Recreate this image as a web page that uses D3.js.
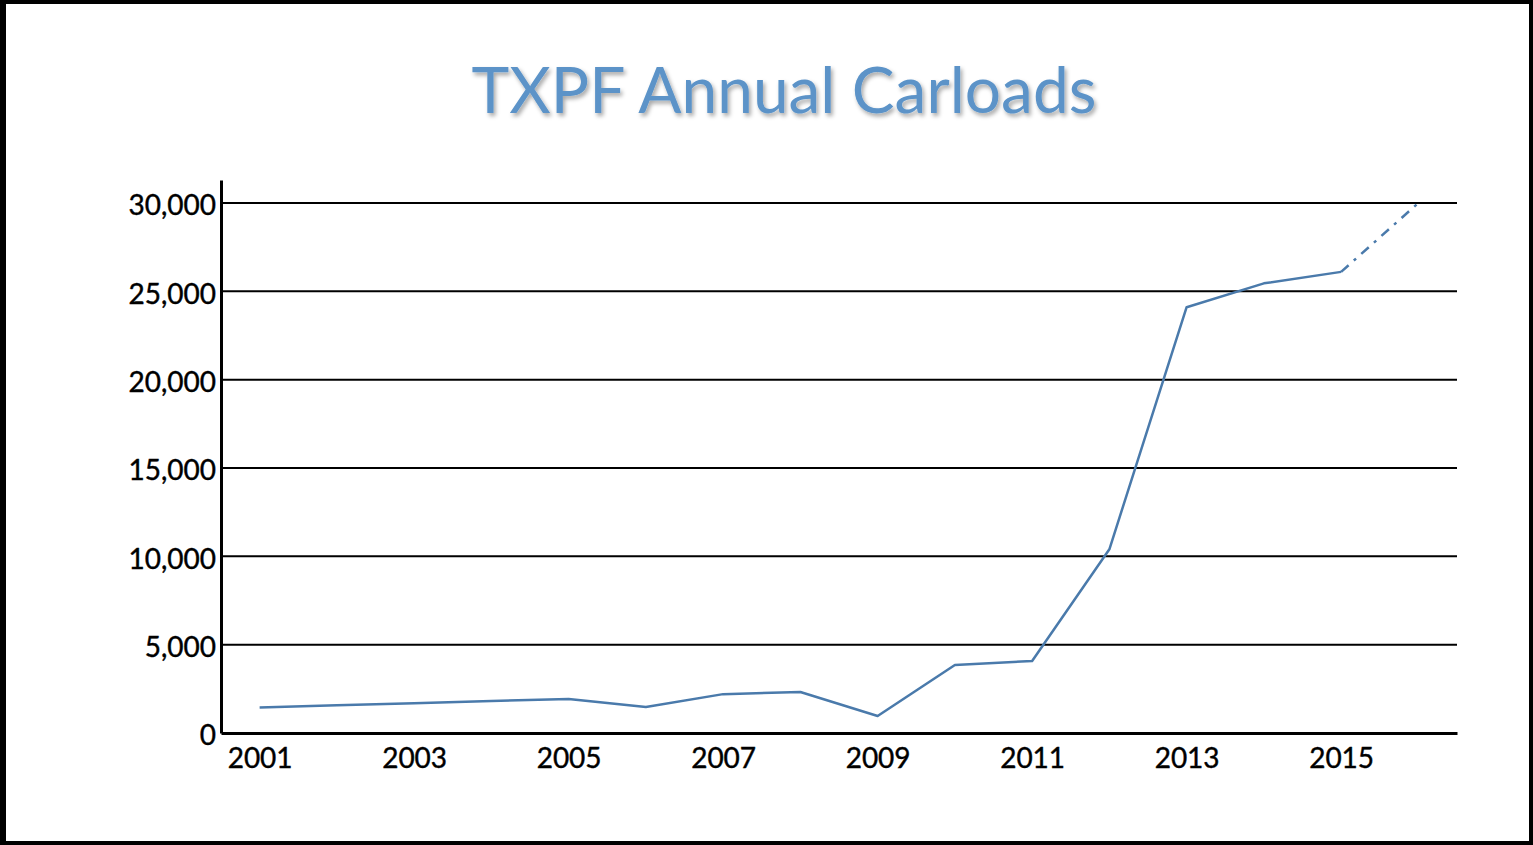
<!DOCTYPE html>
<html>
<head>
<meta charset="utf-8">
<script src="https://cdn.jsdelivr.net/npm/d3@7"></script>
<style>
  html, body { margin: 0; padding: 0; background: #fff; }
  #chart { width: 1533px; height: 845px; }
  .tick-label { font-family: Lato, "Open Sans", sans-serif; font-size: 28px; fill: #000; stroke: #000; stroke-width: 0.4px; }
  .title { font-family: Lato, "Open Sans", sans-serif; font-size: 64px; fill: #5b93c8; }
</style>
</head>
<body>
<div id="chart"></div>
<script>
// chart data
const years = [2001, 2002, 2003, 2004, 2005, 2006, 2007, 2008, 2009, 2010, 2011, 2012, 2013, 2014, 2015];
const carloads = [1450, 1570, 1690, 1810, 1930, 1470, 2200, 2320, 960, 3850, 4080, 10400, 24100, 25450, 26100];
// projected segment (dash-dot)
const projYears = [2015, 2016];
const projCarloads = [26100, 30000];
const yTicks = [0, 5000, 10000, 15000, 20000, 25000, 30000];
const xTicks = [2001, 2003, 2005, 2007, 2009, 2011, 2013, 2015];
const titleText = 'TXPF Annual Carloads';

const W = 1533, H = 845;
const svg = d3.select('#chart').append('svg')
    .attr('width', W).attr('height', H);

const defs = svg.append('defs');
const shadow = defs.append('filter').attr('id', 'shadow')
    .attr('x', '-10%').attr('y', '-10%').attr('width', '120%').attr('height', '130%');
shadow.append('feDropShadow')
    .attr('dx', 2).attr('dy', 3).attr('stdDeviation', 2)
    .attr('flood-color', '#000').attr('flood-opacity', 0.35);

// frame
svg.append('rect').attr('x', 0).attr('y', 0).attr('width', W).attr('height', H).attr('fill', '#000');
svg.append('rect').attr('x', 6).attr('y', 4).attr('width', W - 10).attr('height', H - 8).attr('fill', '#fff');

// title
svg.append('text')
    .attr('class', 'title')
    .attr('x', 784).attr('y', 113)
    .attr('text-anchor', 'middle')
    .attr('filter', 'url(#shadow)')
    .text(titleText);

const plot = { left: 221, right: 1457, top: 180, bottom: 733 };

const x = d3.scaleLinear()
    .domain([2000.5, 2016.5])
    .range([plot.left, plot.right]);

const y = d3.scaleLinear()
    .domain([0, 31300])
    .range([plot.bottom, plot.top]);

// gridlines
svg.append('g')
    .selectAll('line')
    .data(yTicks.filter(d => d > 0))
    .join('line')
    .attr('x1', plot.left).attr('x2', plot.right)
    .attr('y1', d => y(d)).attr('y2', d => y(d))
    .attr('stroke', '#000').attr('stroke-width', 2);

// y axis
const yAxis = svg.append('g')
    .attr('transform', `translate(${plot.left},0)`)
    .call(d3.axisLeft(y).tickValues(yTicks).tickSize(0).tickPadding(5).tickFormat(d3.format(',')));
yAxis.select('.domain').attr('stroke', '#000').attr('stroke-width', 3);
yAxis.selectAll('text').attr('class', 'tick-label').attr('dy', '0.42em').attr('font-size', null).attr('font-family', null);

// x axis
const xAxis = svg.append('g')
    .attr('transform', `translate(0,${plot.bottom})`)
    .call(d3.axisBottom(x).tickValues(xTicks).tickSize(0).tickPadding(15).tickFormat(d3.format('d')));
xAxis.select('.domain').attr('stroke', '#000').attr('stroke-width', 3);
xAxis.selectAll('text').attr('class', 'tick-label').attr('font-size', null).attr('font-family', null);

// series
const line = d3.line()
    .x(d => x(d[0]))
    .y(d => y(d[1]));

svg.append('path')
    .datum(d3.zip(years, carloads))
    .attr('fill', 'none')
    .attr('stroke', '#4a7aab')
    .attr('stroke-width', 2.5)
    .attr('stroke-linejoin', 'round')
    .attr('d', line);

svg.append('path')
    .datum(d3.zip(projYears, projCarloads))
    .attr('fill', 'none')
    .attr('stroke', '#4a7aab')
    .attr('stroke-width', 2.5)
    .attr('stroke-dasharray', '10,7,3,7')
    .attr('d', line);
</script>
</body>
</html>
